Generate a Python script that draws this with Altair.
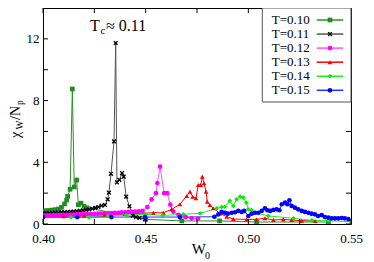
import altair as alt
import pandas as pd

series = ["T=0.10", "T=0.11", "T=0.12", "T=0.13", "T=0.14", "T=0.15"]
line_colors = ["#2a8f2a", "#555555", "#ff55ff", "#ff0000", "#22ee22", "#2233ff"]
mark_colors = ["#228b22", "#000000", "#ff00ff", "#ff0000", "#00ee00", "#0000ff"]
xshape = "M-1,-0.6L-0.6,-1L0,-0.4L0.6,-1L1,-0.6L0.4,0L1,0.6L0.6,1L0,0.4L-0.6,1L-1,0.6L-0.4,0Z"
shapes = ["square", xshape, "circle", "triangle-up", "diamond", "circle"]

x10 = [0.400, 0.4015, 0.403, 0.4045, 0.406, 0.4075, 0.409, 0.4105, 0.4115, 0.412, 0.4132, 0.4143,
       0.4152, 0.4164, 0.4172, 0.4185, 0.4200, 0.4215, 0.450, 0.4676, 0.486, 0.504, 0.539]
y10 = [0.85, 0.86, 0.88, 0.90, 0.93, 0.97, 1.08, 1.30, 1.55, 1.80, 2.25, 8.75,
       2.40, 2.85, 1.25, 1.35, 1.15, 1.05, 0.30, 0.20, 0.20, 0.13, 0.13]

x11 = [0.400, 0.4015, 0.403, 0.4045, 0.406, 0.4075, 0.409, 0.4105, 0.412, 0.4135, 0.415, 0.4165,
       0.418, 0.4195, 0.421, 0.4225, 0.424, 0.4255, 0.427, 0.4285, 0.4302, 0.4315, 0.4321, 0.4331,
       0.4346, 0.4354, 0.4360, 0.4372, 0.4385, 0.4393, 0.4405, 0.4421, 0.4437, 0.4453, 0.447, 0.4497]
y11 = [0.70, 0.70, 0.71, 0.72, 0.73, 0.74, 0.75, 0.76, 0.78, 0.79, 0.81, 0.83,
       0.86, 0.88, 0.91, 0.95, 1.00, 1.05, 1.10, 1.19, 1.23, 1.60, 2.03, 3.25,
       5.35, 11.73, 2.70, 2.86, 3.30, 3.07, 1.77, 1.15, 0.55, 0.45, 0.40, 0.32]

x12 = [0.400, 0.4017, 0.4033, 0.405, 0.4067, 0.4083, 0.410, 0.4117, 0.4133, 0.415, 0.4167, 0.4183,
       0.420, 0.4217, 0.4233, 0.425, 0.4267, 0.4283, 0.430, 0.4317, 0.4333, 0.435, 0.4367, 0.4383,
       0.440, 0.4417, 0.4433, 0.445, 0.4467, 0.4485, 0.4508, 0.4529, 0.455, 0.4557, 0.457, 0.459,
       0.4605, 0.462, 0.4635, 0.466, 0.4695, 0.4724, 0.4755]
y12 = [0.55, 0.56, 0.56, 0.57, 0.58, 0.58, 0.59, 0.60, 0.61, 0.61, 0.62, 0.63,
       0.64, 0.65, 0.65, 0.66, 0.67, 0.68, 0.69, 0.70, 0.71, 0.72, 0.73, 0.75,
       0.76, 0.78, 0.79, 0.80, 0.82, 0.85, 1.10, 1.60, 2.00, 2.65, 3.72, 2.00,
       2.00, 1.25, 0.80, 0.60, 0.45, 0.37, 0.35]

x13 = [0.400, 0.410, 0.420, 0.430, 0.440, 0.4537, 0.4586, 0.4627, 0.4667, 0.4700, 0.4716, 0.4729,
       0.4745, 0.4756, 0.4768, 0.4776, 0.4784, 0.4794, 0.4800, 0.4813, 0.4829, 0.4862, 0.4895,
       0.4927, 0.4992, 0.504, 0.5081, 0.5122, 0.517, 0.5211, 0.526, 0.5325]
y13 = [0.45, 0.50, 0.55, 0.60, 0.65, 0.73, 0.73, 0.95, 1.28, 1.82, 2.10, 1.77,
       1.67, 2.53, 2.53, 3.07, 2.64, 2.10, 1.45, 1.23, 1.02, 0.69, 0.47,
       0.32, 0.30, 0.30, 0.37, 0.26, 0.30, 0.26, 0.21, 0.20]

x14 = [0.400, 0.4136, 0.4225, 0.4317, 0.4404, 0.4497, 0.4583, 0.4683, 0.4765, 0.4846, 0.487, 0.4886,
       0.491, 0.4927, 0.4943, 0.496, 0.4976, 0.499, 0.500, 0.5016, 0.5037, 0.5097, 0.522, 0.531,
       0.539, 0.550]
y14 = [0.45, 0.43, 0.43, 0.52, 0.58, 0.63, 0.56, 0.63, 0.69, 1.02, 1.10, 1.12,
       1.50, 1.17, 1.60, 1.77, 1.71, 1.38, 0.95, 0.91, 0.73, 0.52, 0.37, 0.24,
       0.20, 0.15]

x15 = [0.400, 0.4167, 0.4333, 0.4497, 0.4667, 0.4835, 0.4854, 0.487, 0.4886, 0.490, 0.4919, 0.4935,
       0.4951, 0.4968, 0.498, 0.500, 0.5016, 0.5032, 0.5049, 0.5065, 0.5081, 0.5093, 0.5106, 0.5122,
       0.5138, 0.5151, 0.5163, 0.5179, 0.519, 0.520, 0.5211, 0.5227, 0.5243, 0.526, 0.5276, 0.5292,
       0.5308, 0.5324, 0.534, 0.5357, 0.5373, 0.539, 0.5406, 0.5422, 0.5438, 0.5455, 0.547, 0.5487]
y15 = [0.45, 0.45, 0.45, 0.45, 0.45, 0.47, 0.63, 0.78, 0.73, 0.67, 0.73, 0.76,
       0.85, 0.78, 0.85, 0.52, 0.67, 0.73, 0.73, 0.85, 1.02, 0.89, 0.85, 0.91,
       0.95, 0.89, 1.28, 1.38, 1.28, 1.54, 1.17, 1.06, 0.95, 0.85, 0.78, 0.73,
       0.67, 0.63, 0.52, 0.58, 0.45, 0.41, 0.37, 0.37, 0.37, 0.39, 0.37, 0.32]

x_ticks = [0.40, 0.425, 0.45, 0.475, 0.50, 0.525, 0.55]
x_labels = [0.40, 0.45, 0.50, 0.55]
y_ticks = [0, 2, 4, 6, 8, 10, 12, 14]
y_labels = [0, 4, 8, 12]

rows = []
for name, xs, ys in zip(series, [x10, x11, x12, x13, x14, x15], [y10, y11, y12, y13, y14, y15]):
    for k, (a, b) in enumerate(zip(xs, ys)):
        rows.append({"series": name, "w0": a, "chi": b, "k": k})
df = pd.DataFrame(rows)

W, H = 308, 216
FONT = "Liberation Serif"
xscale = alt.Scale(domain=[0.40, 0.55], nice=False, zero=False)
yscale = alt.Scale(domain=[0, 14], nice=False, zero=True)
stroke_scale = alt.Scale(domain=series, range=line_colors)
fill_scale = alt.Scale(domain=series, range=mark_colors)
shape_scale = alt.Scale(domain=series, range=shapes)

xaxis = alt.Axis(values=x_labels, format=".2f", ticks=False, domain=False, grid=False, title=None,
                 labelPadding=8, labelFont=FONT, labelFontSize=13, labelColor="black",
                 labelFlush=False, labelOverlap=False)
yaxis = alt.Axis(values=y_labels, format="d", ticks=False, domain=False, grid=False, title=None,
                 labelPadding=4, labelFont=FONT, labelFontSize=13, labelColor="black",
                 labelFlush=False, labelOverlap=False)

lines = alt.Chart(df).mark_line(strokeWidth=1, clip=True).encode(
    x=alt.X("w0:Q", scale=xscale, axis=xaxis),
    y=alt.Y("chi:Q", scale=yscale, axis=yaxis),
    stroke=alt.Stroke("series:N", scale=stroke_scale, legend=None),
    order="k:Q",
)
points = alt.Chart(df).mark_point(filled=True, size=22, opacity=1, clip=True).encode(
    x="w0:Q", y="chi:Q",
    fill=alt.Fill("series:N", scale=fill_scale, legend=None),
    shape=alt.Shape("series:N", scale=shape_scale, legend=None),
)

xt = pd.DataFrame({"v": x_ticks})
yt = pd.DataFrame({"v": y_ticks})
tick_b = alt.Chart(xt).mark_rule(color="black").encode(x="v:Q", y=alt.value(H), y2=alt.value(H - 5))
tick_t = alt.Chart(xt).mark_rule(color="black").encode(x="v:Q", y=alt.value(0), y2=alt.value(5))
tick_l = alt.Chart(yt).mark_rule(color="black").encode(y="v:Q", x=alt.value(0), x2=alt.value(5))
tick_r = alt.Chart(yt).mark_rule(color="black").encode(y="v:Q", x=alt.value(W), x2=alt.value(W - 5))

one = pd.DataFrame({"a": [0]})
box = alt.Chart(one).mark_rect(fill="white", stroke="#555555", strokeWidth=1).encode(
    x=alt.value(219.3), x2=alt.value(308), y=alt.value(0), y2=alt.value(94))

leg = pd.DataFrame({"series": series, "i": list(range(len(series)))})
leg_base = alt.Chart(leg).transform_calculate(ty="12 + datum.i * 14.06")
leg_text = leg_base.mark_text(align="left", baseline="middle", font=FONT, fontSize=13, color="black").encode(
    x=alt.value(228.7), y=alt.Y("ty:Q", scale=None, axis=None), text="series:N")
leg_line = leg_base.mark_rule(strokeWidth=1.5).encode(
    x=alt.value(273.7), x2=alt.value(300.3), y=alt.Y("ty:Q", scale=None, axis=None),
    stroke=alt.Stroke("series:N", scale=stroke_scale, legend=None))
leg_pt = leg_base.mark_point(filled=True, size=22, opacity=1).encode(
    x=alt.value(287), y=alt.Y("ty:Q", scale=None, axis=None),
    fill=alt.Fill("series:N", scale=fill_scale, legend=None),
    shape=alt.Shape("series:N", scale=shape_scale, legend=None))


def txt(s, x, y, size, angle=0):
    return alt.Chart(one).mark_text(text=s, align="left", baseline="alphabetic", font=FONT,
                                    fontSize=size, color="black", angle=angle).encode(
        x=alt.value(x), y=alt.value(y))


annot = [txt("T", 47, 23, 16), txt("c", 57.5, 26, 11), txt("≈ 0.11", 63, 23, 16)]
xtitle = [txt("W", 148.7, 245.5, 15), txt("0", 162, 250.5, 10)]
ytitle = [txt("χ", -23.5, 130, 14, 270), txt("W", -20, 121.5, 9.5, 270),
          txt("/N", -23.5, 112, 14, 270), txt("p", -20, 97, 9.5, 270)]

chart = alt.layer(
    lines, points, tick_b, tick_t, tick_l, tick_r, box, leg_line, leg_pt, leg_text,
    *annot, *xtitle, *ytitle
).properties(
    width=W, height=H,
    autosize=alt.AutoSizeParams(type="none"),
    padding={"left": 35, "top": 0, "right": 15, "bottom": 38},
).configure_view(stroke="black", strokeWidth=1)

chart.save("out.html", embed_options={"renderer": "svg", "actions": False})
